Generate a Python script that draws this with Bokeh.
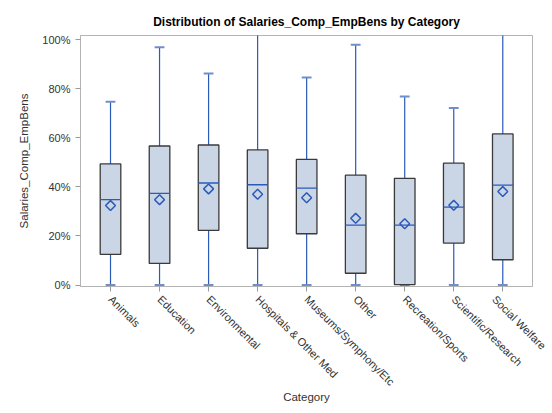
import numpy as np
from bokeh.plotting import figure
from bokeh.models import ColumnDataSource, FixedTicker, NumeralTickFormatter, Range1d
from bokeh.embed import file_html
from bokeh.resources import INLINE

categories = ["Animals", "Education", "Environmental", "Hospitals & Other Med",
              "Museums/Symphony/Etc", "Other", "Recreation/Sports",
              "Scientific/Research", "Social Welfare"]
lo = [0.0, 0.0, 0.0, 0.0, 0.0, 0.0, 0.0, 0.0, 0.0]
q1 = [0.125, 0.088, 0.223, 0.150, 0.209, 0.048, 0.002, 0.171, 0.103]
median = [0.348, 0.374, 0.416, 0.409, 0.395, 0.244, 0.244, 0.318, 0.407]
q3 = [0.494, 0.567, 0.571, 0.551, 0.512, 0.448, 0.435, 0.497, 0.616]
hi = [0.747, 0.970, 0.863, 1.10, 0.846, 0.980, 0.769, 0.722, 1.10]
mean = [0.324, 0.348, 0.392, 0.370, 0.356, 0.272, 0.250, 0.325, 0.381]
y_ticks = [0.0, 0.2, 0.4, 0.6, 0.8, 1.0]

BOX_W = 0.42
CAP_W = 0.2
BLUE = "#2A5BB8"
CAP_BLUE = "#6F8FCB"
FONT = "Liberation Sans"

xs = np.arange(len(categories))
src = ColumnDataSource(dict(
    x=xs, lo=lo, q1=q1, median=median, q3=q3, hi=hi, mean=mean,
    bx0=xs - BOX_W / 2, bx1=xs + BOX_W / 2,
    cx0=xs - CAP_W / 2, cx1=xs + CAP_W / 2,
))

p = figure(width=548, height=410, output_backend="svg", toolbar_location=None,
           x_range=Range1d(-0.612, len(categories) - 1 + 0.606),
           y_range=Range1d(-0.006, 1.0175),
           min_border_left=80, min_border_right=16, min_border_top=35,
           min_border_bottom=124)
p.title.text = "Distribution of Salaries_Comp_EmpBens by Category"
p.title.align = "center"
p.title.offset = -15
p.title.standoff = 13
p.title.text_font = FONT
p.title.text_font_size = "12px"
p.title.text_font_style = "bold"
p.title.text_color = "#000000"

p.grid.visible = False
p.outline_line_color = "#B4B4B4"
p.outline_line_width = 1

# whiskers
p.segment(x0="x", y0="q3", x1="x", y1="hi", source=src, line_color=BLUE, line_width=1.2)
p.segment(x0="x", y0="lo", x1="x", y1="q1", source=src, line_color=BLUE, line_width=1.2)
# caps
p.segment(x0="cx0", y0="hi", x1="cx1", y1="hi", source=src, line_color=CAP_BLUE, line_width=2)
p.segment(x0="cx0", y0="lo", x1="cx1", y1="lo", source=src, line_color=CAP_BLUE, line_width=2)
# boxes
p.vbar(x="x", width=BOX_W, bottom="q1", top="q3", source=src,
       fill_color="#CAD5E6", line_color="#3A3A3A", line_width=1.3)
# medians
p.segment(x0="bx0", y0="median", x1="bx1", y1="median", source=src,
          line_color=BLUE, line_width=1.3)
# means
p.scatter(x="x", y="mean", source=src, marker="square", angle=np.pi / 4, size=7,
          fill_color=None, line_color=BLUE, line_width=1.5)

# axes
xa = p.xaxis[0]
xa.ticker = FixedTicker(ticks=list(xs))
xa.major_label_overrides = {int(i): c for i, c in zip(xs, categories)}
xa.major_label_orientation = -np.pi / 4
xa.major_label_standoff = 6
xa.minor_tick_line_color = None
xa.major_tick_in = 0
xa.major_tick_out = 5
xa.axis_line_color = "#B4B4B4"
xa.major_tick_line_color = "#9A9A9A"
xa.major_label_text_font = FONT
xa.major_label_text_font_size = "11px"
xa.major_label_text_color = "#333333"
xa.axis_label = "Category"
xa.axis_label_text_font = FONT
xa.axis_label_text_font_size = "11.5px"
xa.axis_label_text_font_style = "normal"
xa.axis_label_text_color = "#333333"
xa.axis_label_standoff = -4

ya = p.yaxis[0]
ya.ticker = FixedTicker(ticks=y_ticks)
ya.formatter = NumeralTickFormatter(format="0%")
ya.minor_tick_line_color = None
ya.major_tick_in = 0
ya.major_tick_out = 5
ya.axis_line_color = "#B4B4B4"
ya.major_tick_line_color = "#9A9A9A"
ya.major_label_text_font = FONT
ya.major_label_text_font_size = "11px"
ya.major_label_text_color = "#333333"
ya.axis_label = "Salaries_Comp_EmpBens"
ya.axis_label_text_font = FONT
ya.axis_label_text_font_size = "11.5px"
ya.axis_label_text_font_style = "normal"
ya.axis_label_text_color = "#333333"
ya.axis_label_standoff = 9

open("out.html", "w").write(file_html(p, INLINE))
